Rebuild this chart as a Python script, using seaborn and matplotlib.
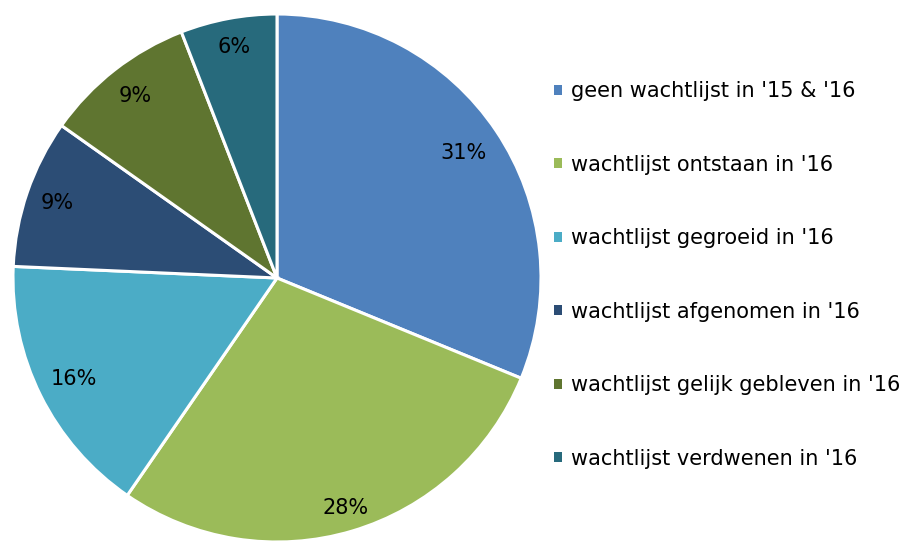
import matplotlib
matplotlib.use("Agg")
import matplotlib.pyplot as plt
import seaborn as sns
import numpy as np

categories = ["geen wachtlijst in '15 & '16", "wachtlijst ontstaan in '16",
              "wachtlijst gegroeid in '16", "wachtlijst afgenomen in '16",
              "wachtlijst gelijk gebleven in '16", "wachtlijst verdwenen in '16"]
values = [31.2, 28.4, 16.1, 9.1, 9.3, 5.9]
colors = ["#4F81BD", "#9BBB59", "#4BACC6", "#2C4D75", "#5F7530", "#276A7C"]
label_radii = [0.85, 0.91, 0.86, 0.88, 0.875, 0.89]

sns.set_theme(style="white")
plt.rcParams['font.family'] = ['DejaVu Sans']
plt.rcParams['text.color'] = 'black'

fig = plt.figure(figsize=(9.14, 5.41), dpi=100)
ax = fig.add_axes([277/914 - 264/914, (541 - 278 - 264)/541, 528/914, 528/541])
wedges, texts, autotexts = ax.pie(
    values, colors=colors, startangle=90, counterclock=False,
    autopct=lambda p: f"{p:.0f}%", pctdistance=0.87,
    wedgeprops=dict(edgecolor="white", linewidth=2.2),
    textprops=dict(fontsize=15, color="black"))
for w, t, r in zip(wedges, autotexts, label_radii):
    ang = np.deg2rad((w.theta1 + w.theta2) / 2)
    t.set_position((r * np.cos(ang), r * np.sin(ang)))
ax.set_xlim(-1, 1)
ax.set_ylim(-1, 1)
ax.set_aspect('equal')

leg = fig.legend(wedges, categories, loc="upper left", bbox_to_anchor=(554/914, 1 - 81/541),
                 frameon=False, fontsize=15, handlelength=0.36, handleheight=0.36,
                 handletextpad=0.45, labelspacing=2.57, borderaxespad=0, borderpad=0,
                 labelcolor="black")
for h in leg.legend_handles:
    h.set_linewidth(0)

fig.savefig("out.png", dpi=100)
